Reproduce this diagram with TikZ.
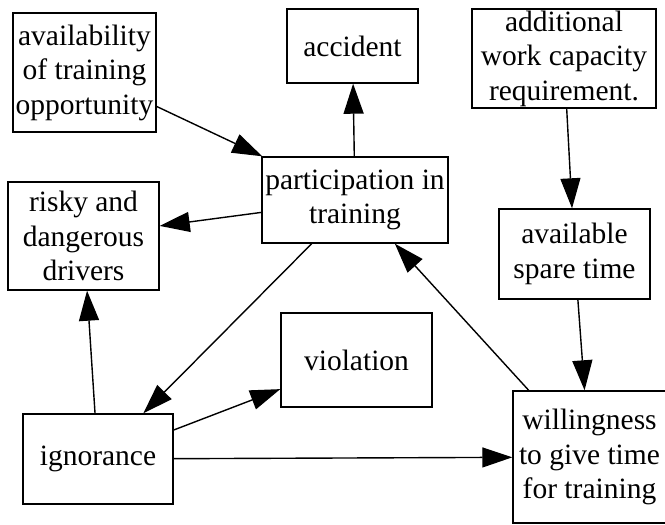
\documentclass[tikz,border=0pt]{standalone}
\usepackage{fontspec}
\setmainfont{Liberation Serif}
\usetikzlibrary{arrows.meta}
\begin{document}
\begin{tikzpicture}[x=1pt,y=-1pt,
  box/.style={draw, line width=1.4pt, inner sep=0pt, align=center,
    font=\fontsize{29.5}{34.5}\selectfont},
  edge/.style={line width=1.4pt, -{Triangle[length=30pt,width=20pt]}}]
  \useasboundingbox[fill=white] (0,0) rectangle (665,525);

  % boxes
  \node[box, minimum width=143pt, minimum height=119pt] (avail) at (84.5,72.5)
    {availability\\of training\\opportunity};
  \node[box, minimum width=131pt, minimum height=74pt] (accident) at (352.5,46)
    {accident};
  \node[box, minimum width=184pt, minimum height=99pt] (extra) at (564,58.5)
    {additional\\work capacity\\requirement.};
  \node[box, minimum width=151pt, minimum height=108pt] (risky) at (83.5,236)
    {risky and\\dangerous\\drivers};
  \node[box, minimum width=186pt, minimum height=86pt] (part) at (355,200)
    {participation in\\training};
  \node[box, minimum width=151pt, minimum height=90pt] (spare) at (574.5,254)
    {available\\spare time};
  \node[box, minimum width=151pt, minimum height=94pt] (violation) at (356.5,360)
    {violation};
  \node[box, minimum width=150pt, minimum height=90pt] (ignorance) at (98,459)
    {ignorance};
  \node[box, minimum width=153pt, minimum height=132pt] (willing) at (589.5,457)
    {willingness\\to give time\\for training};

  % connectors
  \draw[edge] (avail) -- (part);
  \draw[edge] (part) -- (accident);
  \draw[edge] (part) -- (risky);
  \draw[edge] (part) -- (ignorance);
  \draw[edge] (willing) -- (part);
  \draw[edge] (extra) -- (spare);
  \draw[edge] (spare) -- (willing);
  \draw[edge] (ignorance) -- (risky);
  \draw[edge] (ignorance) -- (violation);
  \draw[edge] (ignorance) -- (willing);
\end{tikzpicture}
\end{document}
